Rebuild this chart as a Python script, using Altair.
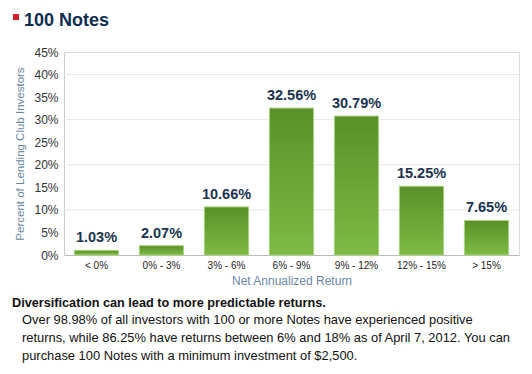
import altair as alt
import pandas as pd

categories = ["< 0%", "0% - 3%", "3% - 6%", "6% - 9%", "9% - 12%", "12% - 15%", "> 15%"]
values = [1.03, 2.07, 10.66, 32.56, 30.79, 15.25, 7.65]
y_ticks = [0, 5, 10, 15, 20, 25, 30, 35, 40, 45]
grid_values = [10, 20, 30, 40]

title_text = "100 Notes"
heading = "Diversification can lead to more predictable returns."
paragraph = [
    "Over 98.98% of all investors with 100 or more Notes have experienced positive",
    "returns, while 86.25% have returns between 6% and 18% as of April 7, 2012. You can",
    "purchase 100 Notes with a minimum investment of $2,500.",
]

FONT = "Liberation Sans"
W, H = 455, 203

df = pd.DataFrame({"cat": categories, "val": values})
df["label"] = [f"{v:.2f}%" for v in values]

x_axis = alt.Axis(
    title="Net Annualized Return",
    labelAngle=0,
    labelFontSize=10,
    labelColor="#222222",
    labelFont=FONT,
    labelPadding=5,
    ticks=False,
    domainColor="#bbbbbb",
    titleFont=FONT,
    titleFontSize=12,
    titleFontWeight="normal",
    titleColor="#6b88a3",
    titlePadding=5,
)
x_scale = alt.Scale(paddingInner=0.32, paddingOuter=0.16)
y_scale = alt.Scale(domain=[0, 45], nice=False)
y_axis = alt.Axis(
    title="Percent of Lending Club Investors",
    values=y_ticks,
    tickCount=10,
    labelExpr="datum.value + '%'",
    labelOverlap=False,
    grid=False,
    ticks=False,
    labelPadding=6,
    labelFontSize=12,
    labelColor="#333333",
    labelFont=FONT,
    domainColor="#cccccc",
    titleFont=FONT,
    titleFontSize=11.5,
    titleFontWeight="normal",
    titleColor="#6b88a3",
    titlePadding=8,
)

gradient = alt.Gradient(
    gradient="linear",
    stops=[
        alt.GradientStop(color="#5a9128", offset=0),
        alt.GradientStop(color="#7dba45", offset=1),
    ],
    x1=0, x2=0, y1=0, y2=1,
)

grid = alt.Chart(pd.DataFrame({"g": grid_values})).mark_rule(
    color="#e8e8e8", strokeWidth=1
).encode(y=alt.Y("g:Q", scale=y_scale, axis=y_axis))

bars = alt.Chart(df).mark_bar(
    color=gradient, stroke="#a9d37f", strokeWidth=1
).encode(
    x=alt.X("cat:N", sort=categories, scale=x_scale, axis=x_axis),
    y=alt.Y("val:Q", scale=y_scale, axis=y_axis),
)

labels = alt.Chart(df).mark_text(
    baseline="bottom", dy=-5, fontSize=14.5, fontWeight="bold",
    color="#1b3350", font=FONT
).encode(
    x=alt.X("cat:N", sort=categories, scale=x_scale, axis=x_axis),
    y=alt.Y("val:Q", scale=y_scale, axis=y_axis),
    text="label:N",
)

one = pd.DataFrame({"t": [0]})
square = alt.Chart(one).mark_rect(color="#d2232a").encode(
    x=alt.value(-51), x2=alt.value(-45), y=alt.value(-38), y2=alt.value(-32)
)
title = alt.Chart(one).mark_text(
    align="left", baseline="alphabetic", fontSize=18, fontWeight="bold",
    color="#0f2d52", font=FONT
).encode(x=alt.value(-40), y=alt.value(-26), text=alt.value(title_text))

head = alt.Chart(one).mark_text(
    align="left", baseline="alphabetic", fontSize=12.7, fontWeight="bold",
    color="#111111", font=FONT
).encode(x=alt.value(-52), y=alt.value(255), text=alt.value(heading))

para = alt.Chart(one).mark_text(
    align="left", baseline="alphabetic", fontSize=12.9, lineHeight=18,
    color="#111111", font=FONT
).encode(x=alt.value(-42), y=alt.value(272), text=alt.value(paragraph))

chart = alt.layer(grid, bars, labels, square, title, head, para).properties(
    width=W, height=H,
    autosize=alt.AutoSizeParams(type="none"),
    padding={"left": 56, "top": 44, "right": 5, "bottom": 110},
).configure_view(stroke=None).configure(background="white")

chart.save("out.html", embed_options={"renderer": "svg", "actions": False})
